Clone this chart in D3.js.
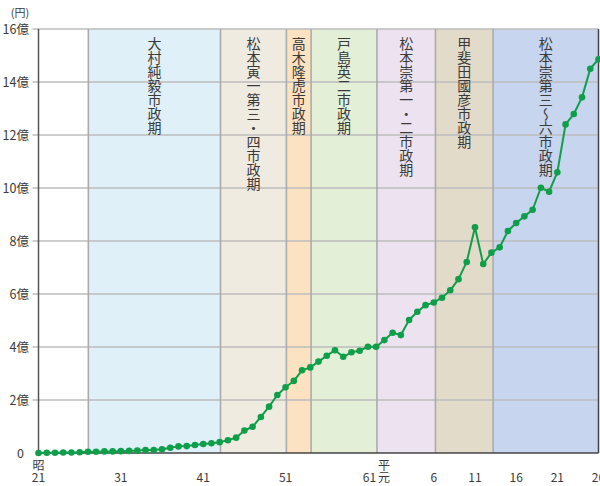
<!DOCTYPE html>
<html>
<head>
<meta charset="utf-8">
<script src="https://cdn.jsdelivr.net/npm/d3@7/dist/d3.min.js"></script>
<style>
  html, body { margin: 0; padding: 0; background: #fff; }
  svg { display: block; font-family: "Noto Sans CJK JP", "Noto Sans", sans-serif; }
</style>
</head>
<body>
<svg id="chart" width="600" height="486"></svg>
<script>
// Fiscal years (Showa 21 – Heisei 26)
const years = [
  1946, 1947, 1948, 1949, 1950, 1951, 1952, 1953, 1954, 1955,
  1956, 1957, 1958, 1959, 1960, 1961, 1962, 1963, 1964, 1965,
  1966, 1967, 1968, 1969, 1970, 1971, 1972, 1973, 1974, 1975,
  1976, 1977, 1978, 1979, 1980, 1981, 1982, 1983, 1984, 1985,
  1986, 1987, 1988, 1989, 1990, 1991, 1992, 1993, 1994, 1995,
  1996, 1997, 1998, 1999, 2000, 2001, 2002, 2003, 2004, 2005,
  2006, 2007, 2008, 2009, 2010, 2011, 2012, 2013, 2014
];

// Amount per year, in 億円
const amounts = [
  0.00, 0.01, 0.01, 0.02, 0.02, 0.03, 0.05, 0.05, 0.06, 0.06,
  0.07, 0.08, 0.09, 0.11, 0.11, 0.14, 0.20, 0.25, 0.26, 0.30,
  0.34, 0.37, 0.41, 0.48, 0.58, 0.85, 0.99, 1.36, 1.75, 2.19,
  2.48, 2.72, 3.12, 3.23, 3.45, 3.67, 3.88, 3.63, 3.80, 3.86,
  4.01, 4.01, 4.26, 4.54, 4.45, 5.02, 5.33, 5.58, 5.68, 5.86,
  6.14, 6.56, 7.21, 8.52, 7.13, 7.56, 7.76, 8.38, 8.68, 8.93,
  9.18, 10.01, 9.86, 10.59, 12.40, 12.79, 13.42, 14.50, 14.86
];

// Mayoral terms
const periodNames = [
  "大村純毅市政期",
  "松本寅一第三・四市政期",
  "高木隆虎市政期",
  "戸島英二市政期",
  "松本崇第一・二市政期",
  "甲斐田國彦市政期",
  "松本崇第三〜六市政期"
];
const periodStarts = [1952.05, 1968.1, 1976.1, 1979.1, 1987.1, 1994.2, 2001.2];
const periodEnds   = [1968.1, 1976.1, 1979.1, 1987.1, 1994.2, 2001.2, 2014];

// Axis ticks
const yTicks = [0, 2, 4, 6, 8, 10, 12, 14, 16];
const yTickLabels = ["0", "2億", "4億", "6億", "8億", "10億", "12億", "14億", "16億"];
const xTicks = [1946, 1956, 1966, 1976, 1986, 1989, 1994, 1999, 2004, 2009, 2014];
const xTickLabels = ["21", "31", "41", "51", "61", "平元", "6", "11", "16", "21", "26"];
const eraMarks = { 1946: "昭" };

const bandColors = ["#dff0f9", "#efebe1", "#fde2c1", "#e3efd6", "#ede3f0", "#e2dbc9", "#c7d5ee"];
const lineColor = "#0f9e4a";
const textColor = "#3a3a3a";

const svg = d3.select("#chart");
const plotLeft = 38.5, plotRight = 598.5, plotTop = 29, plotBottom = 453;

const x = d3.scaleLinear().domain([1946, 2014]).range([plotLeft, plotRight]);
const y = d3.scaleLinear().domain([0, 16]).range([plotBottom, plotTop]);

// Term bands
const periods = periodNames.map((name, i) => ({ name, start: periodStarts[i], end: periodEnds[i], color: bandColors[i] }));

svg.append("g").selectAll("rect")
  .data(periods)
  .join("rect")
  .attr("x", d => x(d.start))
  .attr("y", plotTop)
  .attr("width", d => x(d.end) - x(d.start))
  .attr("height", plotBottom - plotTop)
  .attr("fill", d => d.color);

// Horizontal grid lines (with short outer ticks)
svg.append("g").selectAll("line")
  .data(yTicks.filter(v => v > 0))
  .join("line")
  .attr("x1", plotLeft - 6).attr("x2", plotRight)
  .attr("y1", d => y(d)).attr("y2", d => y(d))
  .attr("stroke", "#bcbcbc").attr("stroke-width", 1.4);

// Term boundaries
svg.append("g").selectAll("line")
  .data(periodStarts)
  .join("line")
  .attr("x1", d => x(d)).attr("x2", d => x(d))
  .attr("y1", plotTop).attr("y2", plotBottom)
  .attr("stroke", "#ababab").attr("stroke-width", 1.6);

// Term labels, written vertically
svg.append("g").selectAll("text")
  .data(periods)
  .join("text")
  .attr("x", d => (x(d.start) + x(d.end)) / 2)
  .attr("y", 37)
  .style("writing-mode", "vertical-rl")
  .attr("font-size", 14)
  .attr("fill", textColor)
  .text(d => d.name);

// Axes frame
svg.append("line").attr("x1", plotLeft).attr("x2", plotLeft).attr("y1", plotTop).attr("y2", plotBottom)
  .attr("stroke", "#555").attr("stroke-width", 1.5);
svg.append("line").attr("x1", plotRight).attr("x2", plotRight).attr("y1", plotTop).attr("y2", plotBottom)
  .attr("stroke", "#444").attr("stroke-width", 1.5);
svg.append("line").attr("x1", plotLeft).attr("x2", plotRight).attr("y1", plotBottom).attr("y2", plotBottom)
  .attr("stroke", "#444").attr("stroke-width", 1.5);

// Y tick labels
svg.append("g").selectAll("text")
  .data(yTicks)
  .join("text")
  .attr("x", d => d === 0 ? 24 : 29)
  .attr("y", d => y(d))
  .attr("dy", "0.36em")
  .attr("text-anchor", "end")
  .attr("font-size", 12.5)
  .attr("fill", textColor)
  .text((d, i) => yTickLabels[i]);

svg.append("text")
  .attr("x", 20).attr("y", 13).attr("dy", "0.36em")
  .attr("text-anchor", "middle")
  .attr("font-size", 11)
  .attr("fill", textColor)
  .text("(円)");

// X tick labels
const xg = svg.append("g").attr("font-size", 12).attr("fill", textColor).attr("text-anchor", "middle");
const rowTop = 466, rowBottom = 478;
xTicks.forEach((yr, i) => {
  const lbl = xTickLabels[i];
  if (lbl.length === 2 && isNaN(+lbl)) {
    // era start: two characters stacked
    const cx = x(yr) - 8.5;
    xg.append("text").attr("x", cx).attr("y", rowTop).attr("dy", "0.36em").text(lbl[0]);
    xg.append("text").attr("x", cx).attr("y", rowBottom).attr("dy", "0.36em").text(lbl[1]);
  } else {
    xg.append("text").attr("x", x(yr) + (yr === 1986 ? 1.5 : 0)).attr("y", rowBottom).attr("dy", "0.36em").text(lbl);
    if (eraMarks[yr]) {
      xg.append("text").attr("x", x(yr)).attr("y", rowTop).attr("dy", "0.36em").text(eraMarks[yr]);
    }
  }
});

// Series line and markers
const series = years.map((yr, i) => ({ yr, v: amounts[i] }));

svg.append("path")
  .datum(series)
  .attr("fill", "none")
  .attr("stroke", lineColor)
  .attr("stroke-width", 2)
  .attr("stroke-linejoin", "round")
  .attr("d", d3.line().x(d => x(d.yr)).y(d => y(d.v)));

svg.append("g").selectAll("circle")
  .data(series)
  .join("circle")
  .attr("cx", d => x(d.yr))
  .attr("cy", d => y(d.v))
  .attr("r", 3.3)
  .attr("fill", lineColor);
</script>
</body>
</html>
